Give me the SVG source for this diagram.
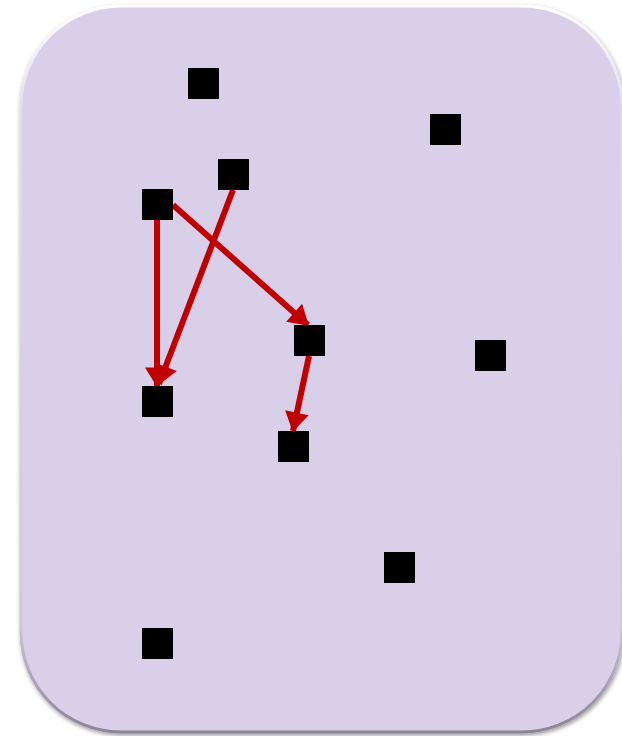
<svg xmlns="http://www.w3.org/2000/svg" width="622" height="736" viewBox="0 0 622 736">
<defs>
<style>
.node{fill:#000000}
.edge{stroke:#C00000;stroke-width:6;fill:none;marker-end:url(#ah)}
</style>
<marker id="ah" markerUnits="userSpaceOnUse" markerWidth="24" markerHeight="24" viewBox="0 0 18 22" refX="17" refY="11" orient="auto">
<path d="M0,0 L18,11 L0,22 Z" fill="#C00000"/>
</marker>
<linearGradient id="rim" x1="0" y1="0" x2="0" y2="1">
<stop offset="0" stop-color="#FFFFFF"/>
<stop offset="0.15" stop-color="#E2DAEE"/>
<stop offset="0.85" stop-color="#CFC5DD"/>
<stop offset="1" stop-color="#8A8494"/>
</linearGradient>
<filter id="sh" x="-10%" y="-10%" width="120%" height="120%">
<feDropShadow dx="1" dy="2" stdDeviation="2" flood-color="#000" flood-opacity="0.4"/>
</filter>
</defs>
<g id="background">
<rect x="21" y="6" width="601" height="726" rx="100" ry="100" fill="#D9CFE8" stroke="url(#rim)" stroke-width="3" filter="url(#sh)"/>
</g>
<g id="connectors">
<line class="edge" x1="157" y1="220" x2="157" y2="386"/>
<line class="edge" x1="233" y1="190" x2="159" y2="384"/>
<line class="edge" x1="173" y1="205" x2="308" y2="325"/>
<line class="edge" x1="309" y1="356" x2="293" y2="431"/>
</g>
<g id="n1"><rect class="node" x="188" y="68" width="31" height="31"/></g>
<g id="n2"><rect class="node" x="430" y="114" width="31" height="31"/></g>
<g id="n3"><rect class="node" x="218" y="159" width="31" height="31"/></g>
<g id="n4"><rect class="node" x="142" y="189" width="31" height="31"/></g>
<g id="n5"><rect class="node" x="294" y="325" width="31" height="31"/></g>
<g id="n6"><rect class="node" x="475" y="340" width="31" height="31"/></g>
<g id="n7"><rect class="node" x="142" y="386" width="31" height="31"/></g>
<g id="n8"><rect class="node" x="278" y="431" width="31" height="31"/></g>
<g id="n9"><rect class="node" x="384" y="552" width="31" height="31"/></g>
<g id="n10"><rect class="node" x="142" y="628" width="31" height="31"/></g>
</svg>
